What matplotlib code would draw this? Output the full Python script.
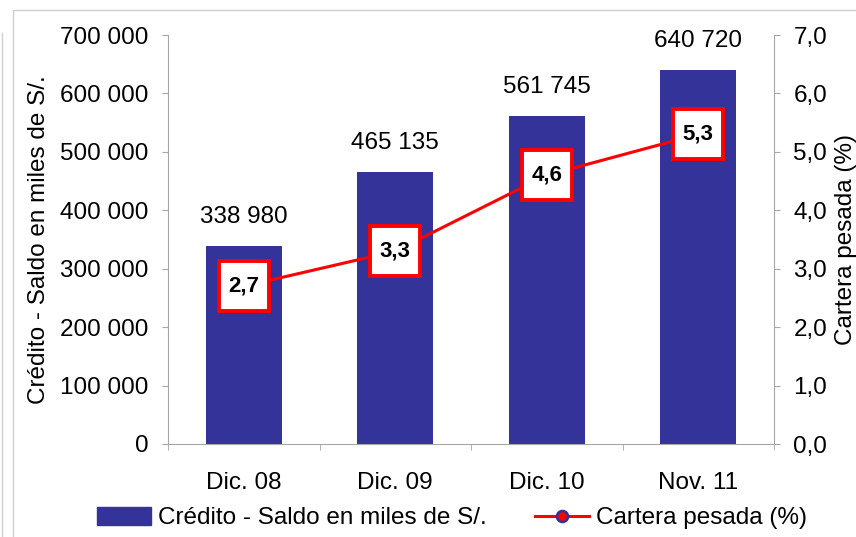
import numpy as np
import matplotlib.pyplot as plt
from matplotlib.lines import Line2D
from matplotlib.patches import Patch

plt.rcParams['font.family'] = ['Liberation Sans', 'DejaVu Sans']

# data
periodos = ["Dic. 08", "Dic. 09", "Dic. 10", "Nov. 11"]
credito = [338980, 465135, 561745, 640720]
cartera = [2.7, 3.3, 4.6, 5.3]

navy = "#333399"
grey = "#a6a6a6"
fs = 17.5


def miles(v):
    return f"{v:,.0f}".replace(",", " ")


fig = plt.figure(figsize=(8.56, 5.37), dpi=100)

# frame of the original chart box
fig.add_artist(Line2D([13/856, 13/856, 1], [0, 1-10/537, 1-10/537],
                      transform=fig.transFigure, color="#d0d0d0", lw=1))
fig.add_artist(Line2D([2/856, 2/856], [0, 1-33/537],
                      transform=fig.transFigure, color="#d0d0d0", lw=1))

ax = fig.add_axes([168/856, 1-444/537, 606/856, 409/537])
x = np.arange(len(periodos))
ax.bar(x, credito, width=0.5, color=navy, zorder=2)
ax.set_xlim(-0.5, len(periodos) - 0.5)
ax.set_ylim(0, 700000)
ax.set_yticks(np.arange(0, 700001, 100000))
ax.set_yticklabels([miles(v) for v in ax.get_yticks()])
ax.set_xticks(x)
ax.set_xticklabels(periodos)
ax.set_xticks(np.arange(-0.5, len(periodos), 1.0), minor=True)
ax.tick_params(axis="x", which="major", length=0, pad=20, labelsize=fs)
ax.tick_params(axis="x", which="minor", length=4, color=grey, direction="out")
ax.tick_params(axis="y", length=4, color=grey, labelsize=fs, pad=10)
ax.set_ylabel("Crédito - Saldo en miles de S/.", fontsize=fs)
ax.yaxis.set_label_coords((50 - 168) / 606, 0.5)
for s in ["top", "right"]:
    ax.spines[s].set_visible(False)
for s in ["left", "bottom"]:
    ax.spines[s].set_color(grey)

for xi, v in zip(x, credito):
    ax.annotate(miles(v), (xi, v), xytext=(0, 13), textcoords="offset points",
                ha="center", va="bottom", fontsize=fs)

ax2 = ax.twinx()
ax2.set_ylim(0, 7)
ax2.set_yticks(np.arange(0, 7.01, 1))
ax2.set_yticklabels([f"{v:.1f}".replace(".", ",") for v in np.arange(0, 7.01, 1)])
ax2.tick_params(axis="y", length=4, color=grey, labelsize=fs, pad=10)
ax2.set_ylabel("Cartera pesada (%)", fontsize=fs)
ax2.yaxis.set_label_coords((835 - 168) / 606, 0.5)
for s in ["top", "left", "bottom"]:
    ax2.spines[s].set_visible(False)
ax2.spines["right"].set_color(grey)

ax2.plot(x, cartera, color="red", lw=2.2, zorder=3)
ax2.plot(x, cartera, ls="none", marker="s", ms=36, mfc="white", mec="red",
         mew=2.8, zorder=4)
for xi, v in zip(x, cartera):
    ax2.text(xi, v, f"{v:.1f}".replace(".", ","), ha="center", va="center",
             fontsize=16, fontweight="bold", zorder=5)

handles = [Patch(facecolor=navy, edgecolor=navy),
           Line2D([], [], color="red", lw=2.2, marker="o", ms=8,
                  mfc="red", mec=navy, mew=1.8)]
fig.legend(handles, ["Crédito - Saldo en miles de S/.", "Cartera pesada (%)"],
           loc="center", bbox_to_anchor=(452/856, 1-518/537), ncol=2,
           frameon=False, fontsize=fs, handlelength=2.2, handleheight=0.75,
           columnspacing=2.0, handletextpad=0.3, borderpad=0)

fig.savefig("out.png", dpi=100)
